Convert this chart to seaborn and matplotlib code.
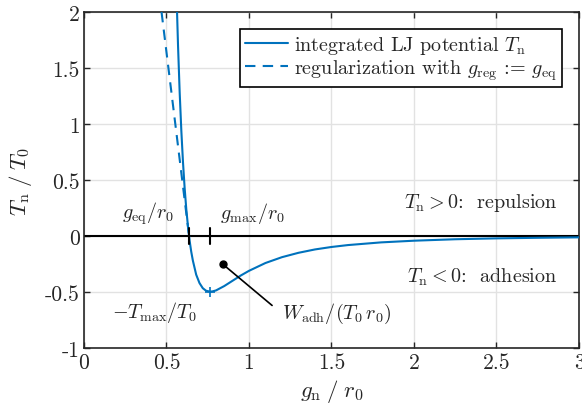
import matplotlib
matplotlib.use("Agg")
import matplotlib.pyplot as plt
import pandas as pd
import seaborn as sns

# normalised gap g_n/r0 and traction T_n/T0
gap = [0.56, 0.57, 0.58, 0.59, 0.60, 0.61, 0.62, 0.63, 0.64, 0.65, 0.66, 0.68,
       0.70, 0.72, 0.74, 0.765, 0.78, 0.80, 0.85, 0.90, 0.95, 1.0, 1.1, 1.2,
       1.3, 1.4, 1.5, 1.6, 1.8, 2.0, 2.25, 2.5, 2.75, 3.0]
traction = [2.20, 1.70, 1.28, 0.94, 0.66, 0.43, 0.24, 0.09, -0.04, -0.14, -0.22, -0.345,
            -0.42, -0.466, -0.489, -0.497, -0.494, -0.486, -0.447, -0.40, -0.353, -0.311, -0.241, -0.189,
            -0.150, -0.120, -0.098, -0.081, -0.057, -0.042, -0.029, -0.021, -0.016, -0.012]

# regularised branch below g_eq (dashed)
reg_gap = [0.47, 0.637]
reg_traction = [2.0, 0.0]

g_eq = 0.637
g_max = 0.765
t_max = -0.497
w_dot = (0.84, -0.25)

blue = "#0072BD"

sns.set_style("whitegrid")
plt.rcParams["font.family"] = "serif"
plt.rcParams["font.serif"] = ["cmr10", "DejaVu Serif"]
plt.rcParams["mathtext.fontset"] = "cm"
plt.rcParams["axes.unicode_minus"] = False
plt.rcParams["axes.formatter.use_mathtext"] = True

fig = plt.figure(figsize=(5.82, 4.14), dpi=100)
ax = fig.add_axes([0.1443, 0.157, 0.8505, 0.8116])

df = pd.DataFrame({"g": gap, "T": traction})
df_reg = pd.DataFrame({"g": reg_gap, "T": reg_traction})

ax.axhline(0, color="black", lw=1.5, zorder=2)
sns.lineplot(data=df_reg, x="g", y="T", ax=ax, color=blue, lw=1.5,
             linestyle=(0, (5, 3.5)), label=r"regularization with $g_\mathrm{reg}$ := $g_\mathrm{eq}$", zorder=3)
sns.lineplot(data=df, x="g", y="T", ax=ax, color=blue, lw=1.5,
             label=r"integrated LJ potential $T_\mathrm{n}$", zorder=4)

# tick marks on the zero line
for xv in (g_eq, g_max):
    ax.plot([xv, xv], [-0.07, 0.07], color="black", lw=1.5, zorder=5)
ax.plot([g_max], [t_max], marker="+", color=blue, ms=7, mew=1.2, zorder=6)

ax.plot([w_dot[0]], [w_dot[1]], "o", color="black", ms=5, zorder=6)
ax.plot([w_dot[0], 1.14], [w_dot[1], -0.62], color="black", lw=1.2, zorder=6)

fs = 14.5
ax.text(0.39, 0.21, r"$g_\mathrm{eq}/r_0$", fontsize=fs, ha="center", va="center")
ax.text(1.02, 0.21, r"$g_\mathrm{max}/r_0$", fontsize=fs, ha="center", va="center")
ax.text(0.43, -0.67, r"$-T_\mathrm{max}/T_0$", fontsize=fs, ha="center", va="center")
ax.text(1.53, -0.69, r"$W_\mathrm{adh}/(T_0\,r_0)$", fontsize=fs, ha="center", va="center")
ax.text(2.87, 0.30, r"$T_\mathrm{n} > 0$:  repulsion", fontsize=fs, ha="right", va="center")
ax.text(2.87, -0.36, r"$T_\mathrm{n} < 0$:  adhesion", fontsize=fs, ha="right", va="center")

ax.set_xlim(0, 3)
ax.set_ylim(-1, 2)
xt = [0, 0.5, 1, 1.5, 2, 2.5, 3]
yt = [-1, -0.5, 0, 0.5, 1, 1.5, 2]
ax.set_xticks(xt)
ax.set_xticklabels(["0", "0.5", "1", "1.5", "2", "2.5", "3"], fontsize=15.5)
ax.set_yticks(yt)
ax.set_yticklabels(["-1", "-0.5", "0", "0.5", "1", "1.5", "2"], fontsize=15.5)
ax.tick_params(direction="in", length=4, width=1, top=True, right=True,
               bottom=True, left=True, color="#262626", pad=3)
ax.grid(True, color="#e2e2e2", lw=1)
for s in ax.spines.values():
    s.set_color("#262626")
    s.set_linewidth(1.2)
ax.set_xlabel(r"$g_\mathrm{n}\;/\;r_0$", fontsize=16.5, labelpad=4)
ax.set_ylabel(r"$T_\mathrm{n}\;/\;T_0$", fontsize=16.5, labelpad=8)

h, l = ax.get_legend_handles_labels()
leg = ax.legend(h[::-1], l[::-1], loc="upper right", fontsize=14.5, frameon=True,
                fancybox=False, edgecolor="black", framealpha=1,
                borderaxespad=0.85, handlelength=2.1, handletextpad=0.3,
                borderpad=0.25, labelspacing=0.05)
leg.get_frame().set_linewidth(1.2)

fig.savefig("out.png", dpi=100)
